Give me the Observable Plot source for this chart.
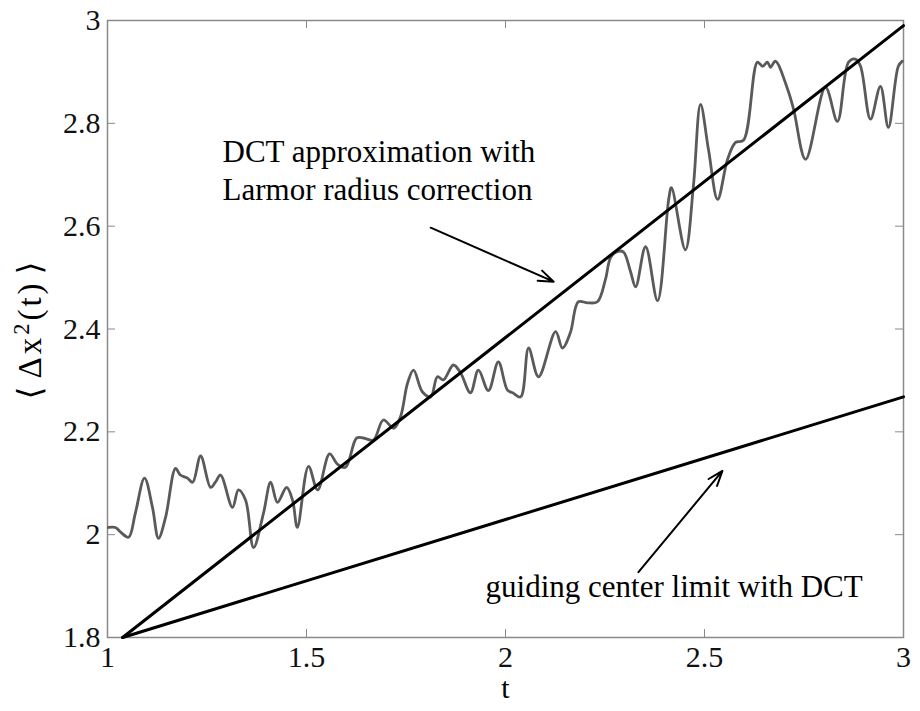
<!DOCTYPE html>
<html><head><meta charset="utf-8">
<script src="https://cdn.jsdelivr.net/npm/d3@7"></script>
<script src="https://cdn.jsdelivr.net/npm/@observablehq/plot@0.6"></script>
<style>body{margin:0;background:#fff} svg text{font-family:"Liberation Serif","Times New Roman","DejaVu Serif",serif !important;}</style>
</head><body><div id="chart"></div>
<script>
// Axis ticks
const xTicks = [1, 1.5, 2, 2.5, 3];
const xTickLabels = ["1", "1.5", "2", "2.5", "3"];
const yTicks = [1.8, 2, 2.2, 2.4, 2.6, 2.8, 3];
const yTickLabels = ["1.8", "2", "2.2", "2.4", "2.6", "2.8", "3"];

// Simulated mean square displacement (gray noisy curve)
const simT = [1.0025,1.020,1.033,1.053,1.070,1.093,1.113,1.128,1.146,1.171,1.183,1.201,1.214,1.234,1.259,1.271,1.284,1.314,1.329,1.347,1.367,1.392,1.410,1.427,1.450,1.465,1.477,1.505,1.528,1.558,1.578,1.598,1.626,1.643,1.668,1.693,1.719,1.736,1.754,1.769,1.791,1.812,1.829,1.844,1.869,1.887,1.912,1.932,1.957,1.982,2.005,2.018,2.038,2.058,2.083,2.126,2.143,2.163,2.183,2.206,2.231,2.251,2.264,2.279,2.296,2.314,2.327,2.352,2.382,2.410,2.417,2.452,2.472,2.490,2.510,2.533,2.558,2.578,2.598,2.633,2.646,2.658,2.666,2.678,2.709,2.724,2.754,2.804,2.834,2.862,2.879,2.892,2.917,2.942,2.962,2.987,2.997];
const simY = [2.014,2.014,2.005,1.995,2.042,2.110,2.053,1.993,2.034,2.129,2.116,2.110,2.102,2.153,2.092,2.102,2.116,2.053,2.087,2.067,1.975,2.042,2.102,2.063,2.092,2.067,2.014,2.133,2.087,2.157,2.137,2.131,2.188,2.188,2.184,2.223,2.207,2.229,2.295,2.320,2.278,2.268,2.307,2.301,2.330,2.315,2.276,2.320,2.280,2.336,2.281,2.276,2.268,2.363,2.307,2.395,2.363,2.393,2.453,2.451,2.453,2.496,2.539,2.550,2.550,2.512,2.482,2.560,2.455,2.652,2.675,2.554,2.677,2.837,2.749,2.652,2.730,2.763,2.767,2.919,2.911,2.919,2.909,2.921,2.866,2.827,2.730,2.870,2.804,2.919,2.925,2.911,2.808,2.872,2.792,2.911,2.921];

// DCT approximation with Larmor radius correction
const dctT = [1.038, 3];
const dctY = [1.8, 2.99];
// Guiding center limit with DCT
const gcT = [1.038, 3];
const gcY = [1.8, 2.268];

// Annotations
const annotText = ["DCT approximation with", "Larmor radius correction", "guiding center limit with DCT"];
const annotT = [1.289, 1.289, 1.95];
const annotY = [2.745, 2.671, 1.899];
const arrowT1 = [1.812, 2.334];
const arrowY1 = [2.597, 1.927];
const arrowT2 = [2.121, 2.545];
const arrowY2 = [2.492, 2.124];

const xLabel = "t";
const yLabel = "⟨Δx2(t)⟩";
const yLabelParts = ["⟨", "Δx", "2", "(t)", "⟩"];

const sim = simT.map((t, i) => ({t, y: simY[i]}));
const dct = dctT.map((t, i) => ({t, y: dctY[i]}));
const gc = gcT.map((t, i) => ({t, y: gcY[i]}));
const annots = annotText.map((s, i) => ({s, t: annotT[i], y: annotY[i]}));
const arrows = arrowT1.map((t, i) => ({t1: t, y1: arrowY1[i], t2: arrowT2[i], y2: arrowY2[i]}));

const W = 920, H = 711, mL = 107, mR = 17, mT = 20, mB = 74;
const plotW = W - mL - mR, plotH = H - mT - mB;
const tk = 8;
const frameColor = "#8a8a8a";
const font = "Liberation Serif, Times New Roman, DejaVu Serif, serif";

const chart = Plot.plot({
  width: W, height: H,
  marginLeft: mL, marginRight: mR, marginTop: mT, marginBottom: mB,
  x: {domain: [1, 3]},
  y: {domain: [1.8, 3]},
  style: {fontFamily: font, fontSize: "30px", color: "#111", background: "#fff"},
  marks: [
    Plot.frame({stroke: frameColor, strokeWidth: 1.5}),
    Plot.tickX(xTicks, {x: d => d, insetTop: plotH - tk, stroke: frameColor}),
    Plot.tickX(xTicks, {x: d => d, insetBottom: plotH - tk, stroke: frameColor}),
    Plot.tickY(yTicks, {y: d => d, insetRight: plotW - tk, stroke: frameColor}),
    Plot.tickY(yTicks, {y: d => d, insetLeft: plotW - tk, stroke: frameColor}),
    Plot.axisX(xTicks, {tickSize: 0, tickPadding: 8, label: null, fontSize: 30,
      tickFormat: d => xTickLabels[xTicks.indexOf(d)]}),
    Plot.axisY(yTicks, {tickSize: 0, tickPadding: 7, label: null, fontSize: 30,
      tickFormat: d => yTickLabels[yTicks.indexOf(d)]}),
    Plot.line(sim, {x: "t", y: "y", stroke: "#5a5a5a", strokeWidth: 2.8, curve: "catmull-rom"}),
    Plot.line(dct, {x: "t", y: "y", stroke: "#000", strokeWidth: 3}),
    Plot.line(gc, {x: "t", y: "y", stroke: "#000", strokeWidth: 3}),
    Plot.arrow(arrows, {x1: "t1", y1: "y1", x2: "t2", y2: "y2", stroke: "#000", strokeWidth: 2, headLength: 12, headAngle: 40}),
    Plot.text(annots, {x: "t", y: "y", text: "s", textAnchor: "start", fontSize: 31, fill: "#000"}),
    Plot.text([xLabel], {frameAnchor: "bottom", dy: 60, fontSize: 30, fill: "#000"}),
    Plot.text([yLabel], {frameAnchor: "left", textAnchor: "middle", dx: -77, rotate: -90, fontSize: 33, fill: "#000"})
  ]
});
document.getElementById("chart").appendChild(chart);

// Render the y label with a real superscript and MATLAB-like spacing
d3.select(chart).selectAll("text").filter(function() { return this.textContent === yLabel; })
  .each(function() {
    const t = d3.select(this).text(null).attr("letter-spacing", "3px");
    t.append("tspan").text(yLabelParts[0]).attr("dx", 0);
    t.append("tspan").text(yLabelParts[1]).attr("dx", 5);
    t.append("tspan").text(yLabelParts[2]).attr("font-size", "0.68em").attr("dy", "-0.55em");
    t.append("tspan").text(yLabelParts[3]).attr("dy", "0.374em");
    t.append("tspan").text(yLabelParts[4]).attr("dx", 6);
  });
</script>
</body></html>
